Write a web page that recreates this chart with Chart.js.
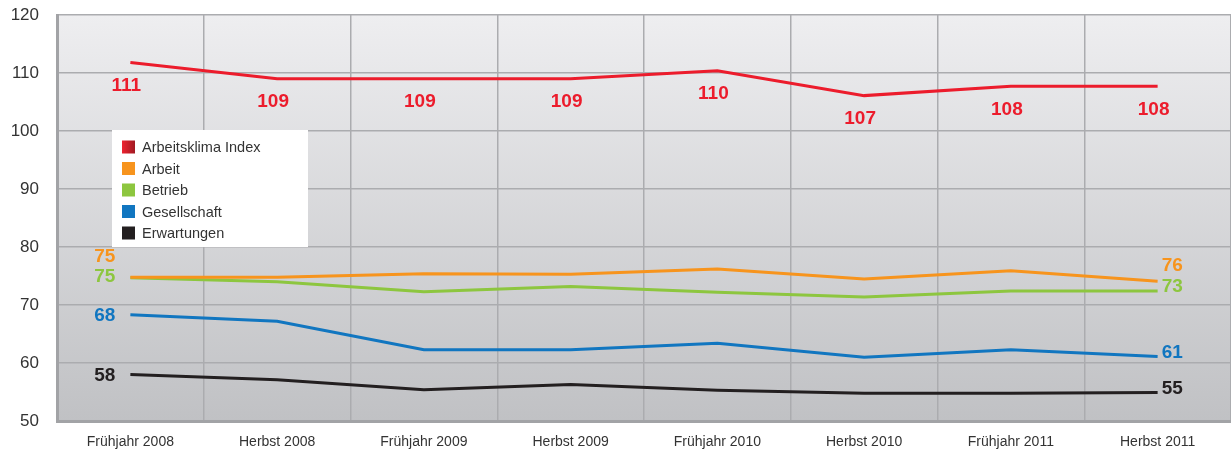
<!DOCTYPE html>
<html>
<head>
<meta charset="utf-8">
<script src="https://cdn.jsdelivr.net/npm/chart.js@4"></script>
<style>
  body { margin: 0; background: #fff; }
</style>
</head>
<body>
<canvas id="klima_chart" width="1231" height="451"></canvas>
<script>
var categories = ['Frühjahr 2008', 'Herbst 2008', 'Frühjahr 2009', 'Herbst 2009',
                  'Frühjahr 2010', 'Herbst 2010', 'Frühjahr 2011', 'Herbst 2011'];

var indexValues        = [111.8, 109.0, 109.0, 109.0, 110.4, 106.1, 107.7, 107.7];
var arbeitValues       = [74.8, 74.8, 75.4, 75.3, 76.2, 74.5, 75.9, 74.1];
var betriebValues      = [74.7, 74.0, 72.3, 73.2, 72.2, 71.4, 72.4, 72.4];
var gesellschaftValues = [68.3, 67.2, 62.3, 62.3, 63.4, 61.0, 62.3, 61.1];
var erwartungenValues  = [58.0, 57.1, 55.4, 56.3, 55.3, 54.8, 54.8, 54.9];

// printed numbers (rounded, as in the report)
var indexLabels = [111, 109, 109, 109, 110, 107, 108, 108];
var startLabels = [75, 75, 68, 58];   // Arbeit, Betrieb, Gesellschaft, Erwartungen
var endLabels   = [76, 73, 61, 55];

var yTicks = [50, 60, 70, 80, 90, 100, 110, 120];

var RED = '#ec1c2c', ORANGE = '#f7941d', GREEN = '#8dc63f', BLUE = '#1176c0', BLACK = '#231f20';

function line(label, data, color, nudgeStart, nudgeEnd) {
    return {
        label: label, data: data,
        borderColor: color, backgroundColor: color,
        borderWidth: 3, pointRadius: 0, tension: 0,
        nudgeStart: nudgeStart || 0, nudgeEnd: nudgeEnd || 0
    };
}

// gradient background of the plot area
var bgPlugin = {
    id: 'bg',
    beforeDraw: function(chart) {
        var a = chart.chartArea, ctx = chart.ctx;
        var g = ctx.createLinearGradient(0, a.top, 0, a.bottom);
        g.addColorStop(0, '#eeeef0');
        g.addColorStop(1, '#c0c1c4');
        ctx.save();
        ctx.fillStyle = g;
        ctx.fillRect(a.left, a.top, a.right - a.left, a.bottom - a.top);
        ctx.restore();
    }
};

// value labels + legend box inside the plot
var labelPlugin = {
    id: 'labels',
    afterDatasetsDraw: function(chart) {
        var ctx = chart.ctx, x = chart.scales.x, y = chart.scales.y, a = chart.chartArea;
        ctx.save();
        ctx.font = 'bold 19px "Liberation Sans", Arial, sans-serif';
        ctx.textBaseline = 'middle';

        // index labels under the red line
        ctx.fillStyle = RED;
        ctx.textAlign = 'center';
        indexLabels.forEach(function(v, i) {
            ctx.fillText(v, x.getPixelForValue(i) - 4, y.getPixelForValue(indexValues[i]) + 23);
        });

        // start / end labels of the other series
        for (var d = 1; d < chart.data.datasets.length; d++) {
            var ds = chart.data.datasets[d];
            var last = ds.data.length - 1;
            ctx.fillStyle = ds.borderColor;
            ctx.textAlign = 'right';
            ctx.fillText(startLabels[d - 1], x.getPixelForValue(0) - 15,
                         y.getPixelForValue(ds.data[0]) + ds.nudgeStart);
            ctx.textAlign = 'left';
            ctx.fillText(endLabels[d - 1], x.getPixelForValue(last) + 4,
                         y.getPixelForValue(ds.data[last]) + ds.nudgeEnd);
        }

        // legend
        var lx = a.left + 55, ly = a.top + 115, lw = 196, lh = 117;
        ctx.fillStyle = '#ffffff';
        ctx.fillRect(lx, ly, lw, lh);
        ctx.font = '14.5px "Liberation Sans", Arial, sans-serif';
        ctx.textAlign = 'left';
        chart.data.datasets.forEach(function(ds, i) {
            var cy = ly + 17 + i * 21.5;
            if (i === 0) {
                var g = ctx.createLinearGradient(lx + 10, 0, lx + 23, 0);
                g.addColorStop(0, '#ee2330');
                g.addColorStop(1, '#a01a22');
                ctx.fillStyle = g;
            } else {
                ctx.fillStyle = ds.borderColor;
            }
            ctx.fillRect(lx + 10, cy - 6.5, 13, 13);
            ctx.fillStyle = '#333333';
            ctx.fillText(ds.label, lx + 30, cy + 1);
        });
        ctx.restore();
    }
};

var ctx = document.getElementById('klima_chart').getContext('2d');
var klima_chart = new Chart(ctx, {
    type: 'line',
    data: {
        labels: categories,
        datasets: [
            line('Arbeitsklima Index', indexValues, RED),
            line('Arbeit', arbeitValues, ORANGE, -20, -15),
            line('Betrieb', betriebValues, GREEN, -1, -4),
            line('Gesellschaft', gesellschaftValues, BLUE, 1, -4),
            line('Erwartungen', erwartungenValues, BLACK, 1, -4)
        ]
    },
    options: {
        responsive: false,
        animation: false,
        layout: { padding: { top: 15, right: 0, left: 0, bottom: 0 } },
        plugins: {
            legend: { display: false },
            title: { display: false },
            tooltip: { enabled: false }
        },
        scales: {
            x: {
                offset: true,
                grid: { offset: true, color: '#abacaf', lineWidth: 1.5, drawTicks: false },
                border: { color: '#a2a3a6', width: 3 },
                ticks: {
                    color: '#333333', padding: 13,
                    font: { family: '"Liberation Sans", Arial, sans-serif', size: 14 },
                    maxRotation: 0, autoSkip: false
                },
                afterFit: function(s) { s.height = 30; s.paddingLeft = 0; s.paddingRight = 0; }
            },
            y: {
                min: 50, max: 120,
                afterBuildTicks: function(s) {
                    s.ticks = yTicks.map(function(v) { return { value: v }; });
                },
                grid: { color: '#abacaf', lineWidth: 1.5, drawTicks: false },
                border: { color: '#a2a3a6', width: 3 },
                ticks: {
                    color: '#333333', padding: 18,
                    font: { family: '"Liberation Sans", Arial, sans-serif', size: 17 }
                },
                afterFit: function(s) { s.width = 57; s.paddingTop = 0; s.paddingBottom = 0; }
            }
        }
    },
    plugins: [bgPlugin, labelPlugin]
});
</script>
</body>
</html>
